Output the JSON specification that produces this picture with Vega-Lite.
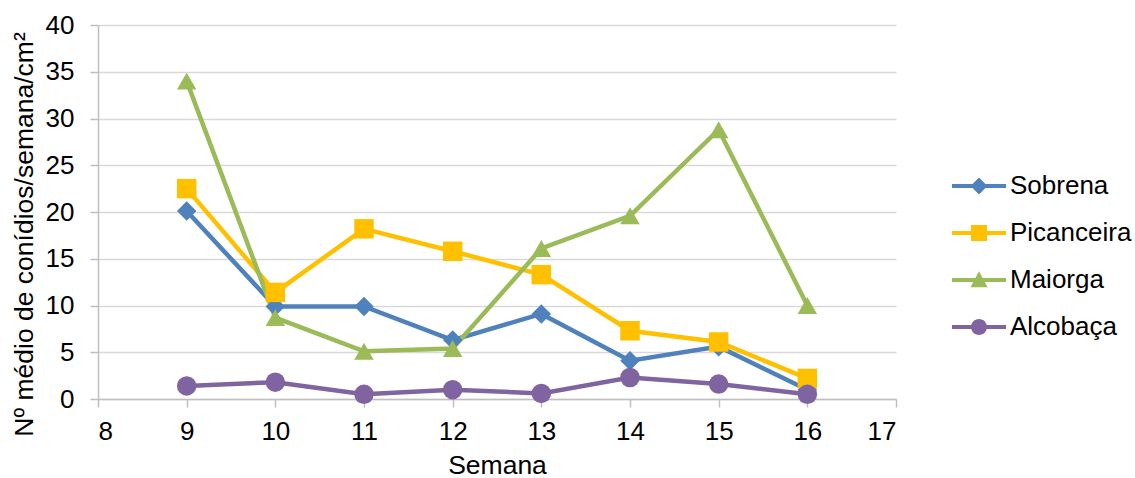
{
  "$schema": "https://vega.github.io/schema/vega-lite/v6.json",
  "width": 798,
  "height": 374,
  "autosize": {"type": "none"},
  "padding": {"left": 98, "top": 25, "right": 239, "bottom": 79},
  "background": "white",
  "config": {
    "font": "Liberation Sans",
    "view": {"stroke": null},
    "axis": {
      "labelFont": "Liberation Sans",
      "titleFont": "Liberation Sans",
      "labelFontSize": 26,
      "titleFontSize": 26.5,
      "titleFontWeight": "normal",
      "labelColor": "#000000",
      "titleColor": "#000000",
      "domainColor": "#BFBFBF",
      "domainWidth": 1.5,
      "tickColor": "#BFBFBF",
      "tickWidth": 1.5,
      "tickSize": 8,
      "gridColor": "#D9D9D9",
      "gridWidth": 1.5
    }
  },
  "data": {
    "values": [
      {"semana": 9, "local": "Sobrena", "valor": 20.1},
      {"semana": 10, "local": "Sobrena", "valor": 9.9},
      {"semana": 11, "local": "Sobrena", "valor": 9.9},
      {"semana": 12, "local": "Sobrena", "valor": 6.3},
      {"semana": 13, "local": "Sobrena", "valor": 9.1},
      {"semana": 14, "local": "Sobrena", "valor": 4.1},
      {"semana": 15, "local": "Sobrena", "valor": 5.6},
      {"semana": 16, "local": "Sobrena", "valor": 1.0},
      {"semana": 9, "local": "Picanceira", "valor": 22.5},
      {"semana": 10, "local": "Picanceira", "valor": 11.4},
      {"semana": 11, "local": "Picanceira", "valor": 18.2},
      {"semana": 12, "local": "Picanceira", "valor": 15.8},
      {"semana": 13, "local": "Picanceira", "valor": 13.3},
      {"semana": 14, "local": "Picanceira", "valor": 7.3},
      {"semana": 15, "local": "Picanceira", "valor": 6.1},
      {"semana": 16, "local": "Picanceira", "valor": 2.2},
      {"semana": 9, "local": "Maiorga", "valor": 34.0},
      {"semana": 10, "local": "Maiorga", "valor": 8.7},
      {"semana": 11, "local": "Maiorga", "valor": 5.1},
      {"semana": 12, "local": "Maiorga", "valor": 5.4},
      {"semana": 13, "local": "Maiorga", "valor": 16.1},
      {"semana": 14, "local": "Maiorga", "valor": 19.6},
      {"semana": 15, "local": "Maiorga", "valor": 28.8},
      {"semana": 16, "local": "Maiorga", "valor": 10.0},
      {"semana": 9, "local": "Alcobaça", "valor": 1.4},
      {"semana": 10, "local": "Alcobaça", "valor": 1.8},
      {"semana": 11, "local": "Alcobaça", "valor": 0.5},
      {"semana": 12, "local": "Alcobaça", "valor": 1.0},
      {"semana": 13, "local": "Alcobaça", "valor": 0.6},
      {"semana": 14, "local": "Alcobaça", "valor": 2.3},
      {"semana": 15, "local": "Alcobaça", "valor": 1.6},
      {"semana": 16, "local": "Alcobaça", "valor": 0.5}
    ]
  },
  "encoding": {
    "x": {
      "field": "semana",
      "type": "quantitative",
      "scale": {"domain": [8, 17], "nice": false, "zero": false},
      "axis": {"values": [8, 9, 10, 11, 12, 13, 14, 15, 16, 17], "grid": false, "title": "Semana", "labelPadding": 11, "titlePadding": 8}
    },
    "y": {
      "field": "valor",
      "type": "quantitative",
      "scale": {"domain": [0, 40], "nice": false},
      "axis": {"values": [0, 5, 10, 15, 20, 25, 30, 35, 40], "title": "Nº médio de conídios/semana/cm²", "labelPadding": 16, "titlePadding": 7, "titleY": 209}
    }
  },
  "resolve": {"scale": {"color": "independent", "shape": "independent"}, "legend": {"color": "independent", "shape": "independent"}},
  "layer": [
    {
      "mark": {"type": "line", "strokeWidth": 4.5},
      "encoding": {
        "color": {"field": "local", "type": "nominal", "sort": null,
          "scale": {"domain": ["Sobrena", "Picanceira", "Maiorga", "Alcobaça"], "range": ["#4F81BD", "#FFC000", "#9BBB59", "#8064A2"]},
          "legend": null}
      }
    },
    {
      "mark": {"type": "point", "filled": true, "opacity": 1, "size": 380},
      "encoding": {
        "color": {"field": "local", "type": "nominal",
          "scale": {"domain": ["Sobrena", "Picanceira", "Maiorga", "Alcobaça"], "range": ["#4F81BD", "#FFC000", "#9BBB59", "#8064A2"]},
          "legend": null},
        "shape": {"field": "local", "type": "nominal",
          "scale": {"domain": ["Sobrena", "Picanceira", "Maiorga", "Alcobaça"], "range": ["diamond", "square", "triangle-up", "circle"]},
          "legend": null}
      }
    },
    {
      "transform": [{"filter": "datum.valor < 0"}],
      "mark": {"type": "point", "filled": true, "opacity": 1},
      "encoding": {
        "color": {"field": "local", "type": "nominal",
          "scale": {"domain": ["Sobrena", "Picanceira", "Maiorga", "Alcobaça"], "range": ["#4F81BD", "#FFC000", "#9BBB59", "#8064A2"]},
          "legend": {"title": null, "orient": "none", "legendX": 868, "legendY": 141, "padding": 0, "symbolSize": 1600, "symbolStrokeWidth": 0, "labelFontSize": 26, "labelFont": "Liberation Sans", "labelColor": "#000000", "labelOffset": 4, "rowPadding": 14, "symbolOpacity": 1}},
        "shape": {"field": "local", "type": "nominal",
          "scale": {"domain": ["Sobrena", "Picanceira", "Maiorga", "Alcobaça"], "range": [
            "M-1.7,-0.1H1V0.1H-1.7Z M-0.35,-0.42L0.07,0L-0.35,0.42L-0.77,0Z",
            "M-1.7,-0.1H1V0.1H-1.7Z M-0.75,-0.4H0.05V0.4H-0.75Z",
            "M-1.7,-0.1H1V0.1H-1.7Z M-0.35,-0.44L0.08,0.36H-0.78Z",
            "M-1.7,-0.1H1V0.1H-1.7Z M-0.75,0a0.4,0.4 0 1,1 0.8,0a0.4,0.4 0 1,1 -0.8,0Z"
          ]},
          "legend": {"title": null, "orient": "none", "legendX": 868, "legendY": 141, "padding": 0, "symbolSize": 1600, "symbolStrokeWidth": 0, "labelFontSize": 26, "labelFont": "Liberation Sans", "labelColor": "#000000", "labelOffset": 4, "rowPadding": 14, "symbolOpacity": 1}}
      }
    }
  ]
}
